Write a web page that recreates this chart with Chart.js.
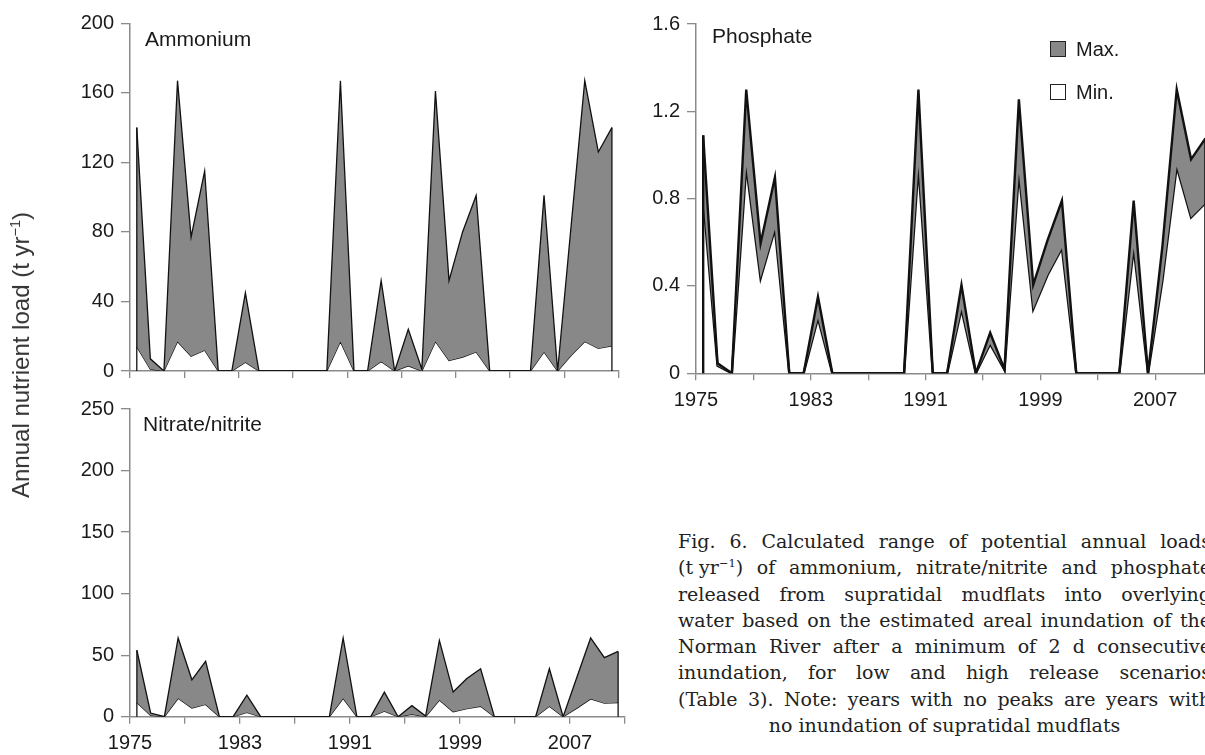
<!DOCTYPE html>
<html>
<head>
<meta charset="utf-8">
<script src="https://cdn.jsdelivr.net/npm/chart.js@4.4.1/dist/chart.umd.min.js"></script>
<style>
  html, body { margin: 0; padding: 0; background: #fff; }
  body { width: 1205px; height: 755px; overflow: hidden; position: relative;
         font-family: 'Liberation Sans', Arial, sans-serif; color: #1a1a1a; }
  canvas { position: absolute; }
  .ttl { position: absolute; font-size: 21px; line-height: 1; white-space: nowrap; }
  #ylab { position: absolute; left: 21px; top: 355px; transform: translate(-50%, -50%) rotate(-90deg);
          font-size: 24px; white-space: nowrap; color: #333; }
  sup { font-size: 0.6em; vertical-align: 0.65em; line-height: 0; }
  .legbox { position: absolute; width: 14px; height: 14px; border: 1.3px solid #222; }
  .legtxt { position: absolute; font-size: 20px; line-height: 1; }
  #caption { position: absolute; left: 678px; top: 528px; width: 533px;
             font-family: 'DejaVu Serif', serif; font-size: 19px; line-height: 26.3px; color: #222; }
  #caption div { white-space: nowrap; text-align: justify; text-align-last: justify; }
  #caption div.last { text-align: center; text-align-last: center; }
  .unit { display: inline-block; }
</style>
</head>
<body>
<canvas id="ammoniumChart" width="640" height="390" style="left:0;top:0"></canvas>
<canvas id="nitrateChart" width="645" height="365" style="left:0;top:390px"></canvas>
<canvas id="phosphateChart" width="640" height="430" style="left:640px;top:0"></canvas>

<div class="ttl" style="left:145px;top:28px">Ammonium</div>
<div class="ttl" style="left:143px;top:413px">Nitrate/nitrite</div>
<div class="ttl" style="left:712px;top:25px">Phosphate</div>

<div class="legbox" style="left:1050px;top:41px;background:#888"></div>
<div class="legtxt" style="left:1076px;top:39px">Max.</div>
<div class="legbox" style="left:1050px;top:84px;background:#fff"></div>
<div class="legtxt" style="left:1076px;top:82px">Min.</div>

<div id="ylab">Annual nutrient load (t yr<sup>−1</sup>)</div>

<div id="caption">
  <div>Fig. 6. Calculated range of potential annual loads</div>
  <div><span class="unit">(t yr<sup>−1</sup>)</span> of ammonium, nitrate/nitrite and phosphate</div>
  <div>released from supratidal mudflats into overlying</div>
  <div>water based on the estimated areal inundation of the</div>
  <div>Norman River after a minimum of 2 d consecutive</div>
  <div>inundation, for low and high release scenarios</div>
  <div>(Table 3). Note: years with no peaks are years with</div>
  <div class="last">no inundation of supratidal mudflats</div>
</div>

<script>
// Tahun (kategori)
const years = [1975, 1976, 1977, 1978, 1979, 1980, 1981, 1982, 1983, 1984, 1985, 1986,
               1987, 1988, 1989, 1990, 1991, 1992, 1993, 1994, 1995, 1996, 1997, 1998,
               1999, 2000, 2001, 2002, 2003, 2004, 2005, 2006, 2007, 2008, 2009, 2010];

// Ammonium (t/yr)
const ammoniumMax = [140, 7, 0, 167, 77, 115, 0, 0, 45, 0, 0, 0,
                     0, 0, 0, 167, 0, 0, 52, 0, 24, 1, 161, 52,
                     80, 101, 0, 0, 0, 0, 101, 0, 84, 167, 126, 140];
const ammoniumMin = [14, 1, 0, 17, 8.5, 12, 0, 0, 5, 0, 0, 0,
                     0, 0, 0, 17, 0, 0, 5.5, 0, 3, 0, 17, 6,
                     8, 11, 0, 0, 0, 0, 11, 0, 9, 17, 13, 14.5];

// Nitrate/nitrite (t/yr)
const nitrateMax = [54, 3, 0, 64, 30, 45, 0, 0, 17.5, 0, 0, 0,
                    0, 0, 0, 64, 0, 0, 20, 0, 9, 0.5, 62, 20,
                    31, 39, 0, 0, 0, 0, 39, 0, 32, 64, 48, 53];
const nitrateMin = [11.5, 1, 0, 15, 7, 10, 0, 0, 3.5, 0, 0, 0,
                    0, 0, 0, 15, 0, 0, 4.5, 0, 2, 0, 13.5, 4,
                    6.5, 8.5, 0, 0, 0, 0, 8.5, 0, 7, 14.5, 11, 11.5];

// Phosphate (t/yr)
const phosphateMax = [1.09, 0.046, 0, 1.30, 0.595, 0.898, 0, 0, 0.351, 0, 0, 0,
                      0, 0, 0, 1.30, 0, 0, 0.405, 0, 0.186, 0.018, 1.255, 0.405,
                      0.61, 0.791, 0, 0, 0, 0, 0.791, 0, 0.58, 1.30, 0.98, 1.076];
const phosphateMin = [0.80, 0.035, 0, 0.947, 0.435, 0.66, 0, 0, 0.252, 0, 0, 0,
                      0, 0, 0, 0.947, 0, 0, 0.293, 0, 0.134, 0.015, 0.916, 0.293,
                      0.45, 0.573, 0, 0, 0, 0, 0.573, 0, 0.424, 0.947, 0.714, 0.78];

// Tick sumbu
const xTickYears = [1975, 1979, 1983, 1987, 1991, 1995, 1999, 2003, 2007, 2011];
const xTickLabels = [1975, 1983, 1991, 1999, 2007];
const ammoniumTicks = [0, 40, 80, 120, 160, 200];
const nitrateTicks = [0, 50, 100, 150, 200, 250];
const phosphateTicks = [0, 0.4, 0.8, 1.2, 1.6];

const axisGray = '#8a8a8a';
const fontFamily = "'Liberation Sans', Arial, sans-serif";

// garis tegak di ujung kiri & kanan area (seperti Excel)
const endEdges = {
    id: 'endEdges',
    afterDatasetsDraw(chart) {
        const pts = chart.getDatasetMeta(0).data;
        const y0 = chart.scales.y.getPixelForValue(0);
        const ctx = chart.ctx;
        ctx.save();
        ctx.strokeStyle = '#111';
        ctx.lineWidth = chart.data.datasets[0].borderWidth;
        [pts[0], pts[pts.length - 1]].forEach(p => {
            ctx.beginPath();
            ctx.moveTo(p.x, y0);
            ctx.lineTo(p.x, p.y);
            ctx.stroke();
        });
        ctx.restore();
    }
};

function toPoints(vals) {
    // nilai tahunan diletakkan di tengah interval tahun
    return years.map((yr, i) => ({ x: yr + 0.5, y: vals[i] }));
}

function makePanel(id, maxVals, minVals, yTicks, cfg) {
    return new Chart(document.getElementById(id), {
        type: 'line',
        data: {
            datasets: [{
                label: 'Max.',
                data: toPoints(maxVals),
                borderColor: '#111',
                borderWidth: cfg.lineWidth,
                backgroundColor: '#888888',
                fill: '+1',
                pointRadius: 0,
                tension: 0
            }, {
                label: 'Min.',
                data: toPoints(minVals),
                borderColor: '#111',
                borderWidth: cfg.lineWidth,
                backgroundColor: '#ffffff',
                fill: false,
                pointRadius: 0,
                tension: 0
            }]
        },
        options: {
            responsive: false,
            animation: false,
            events: [],
            layout: { padding: cfg.padding },
            plugins: { legend: { display: false }, tooltip: { enabled: false } },
            scales: {
                x: {
                    type: 'linear',
                    min: 1975,
                    max: 2011,
                    afterBuildTicks: s => { s.ticks = xTickYears.map(v => ({ value: v })); },
                    afterFit: s => { s.height = cfg.xHeight; },
                    grid: { drawOnChartArea: false, drawTicks: true, tickLength: 7, color: axisGray, lineWidth: 1.3 },
                    border: { display: true, color: axisGray, width: 1.5 },
                    ticks: {
                        autoSkip: false,
                        maxRotation: 0,
                        padding: 8,
                        color: '#1a1a1a',
                        font: { family: fontFamily, size: 20 },
                        callback: v => (cfg.xLabels && xTickLabels.includes(v)) ? String(v) : ''
                    }
                },
                y: {
                    min: yTicks[0],
                    max: yTicks[yTicks.length - 1],
                    afterBuildTicks: s => { s.ticks = yTicks.map(v => ({ value: v })); },
                    afterFit: s => { s.width = cfg.yWidth; },
                    grid: { drawOnChartArea: false, drawTicks: true, tickLength: 9, color: axisGray, lineWidth: 1.3 },
                    border: { display: true, color: axisGray, width: 1.5 },
                    ticks: {
                        padding: 7,
                        color: '#1a1a1a',
                        font: { family: fontFamily, size: 20 },
                        callback: v => String(v)
                    }
                }
            }
        },
        plugins: [endEdges]
    });
}

document.addEventListener('DOMContentLoaded', () => {
    makePanel('ammoniumChart', ammoniumMax, ammoniumMin, ammoniumTicks, {
        lineWidth: 1.3, yWidth: 130, xHeight: 15, xLabels: false,
        padding: { top: 23.3, right: 21.3, left: 0, bottom: 0 }
    });
    makePanel('nitrateChart', nitrateMax, nitrateMin, nitrateTicks, {
        lineWidth: 1.3, yWidth: 130, xHeight: 38.3, xLabels: true,
        padding: { top: 18.3, right: 20, left: 0, bottom: 0 }
    });
    makePanel('phosphateChart', phosphateMax, phosphateMin, phosphateTicks, {
        lineWidth: 2.4, yWidth: 56, xHeight: 56.7, xLabels: true,
        padding: { top: 24, right: 67.4, left: 0, bottom: 0 }
    });
});
</script>
</body>
</html>
